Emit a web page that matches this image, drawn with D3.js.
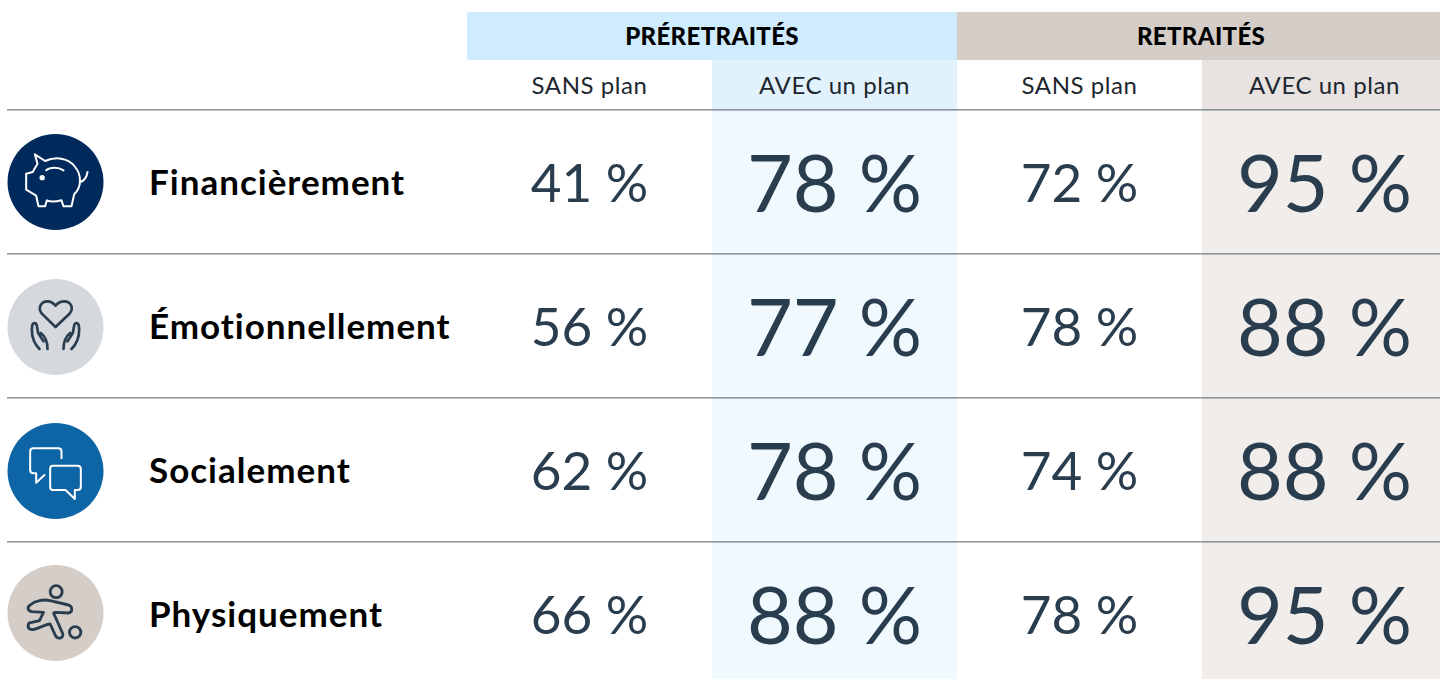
<!DOCTYPE html>
<html lang="fr">
<head>
<meta charset="utf-8">
<script src="https://cdnjs.cloudflare.com/ajax/libs/d3/7.8.5/d3.min.js"></script>
<style>
  html, body { margin: 0; padding: 0; background: #fff; overflow: hidden; }
  svg { display: block; }
  text { font-family: Lato, "Open Sans", sans-serif; font-variant-ligatures: none; }
</style>
</head>
<body>
<div id="chart"></div>
<script>
// data
const categories = ["Financièrement", "Émotionnellement", "Socialement", "Physiquement"];
const groups = ["PRÉRETRAITÉS", "RETRAITÉS"];
const columnLabels = ["SANS plan", "AVEC un plan", "SANS plan", "AVEC un plan"];
const preSansPlan = [41, 56, 62, 66];
const preAvecPlan = [78, 77, 78, 88];
const retSansPlan = [72, 78, 74, 78];
const retAvecPlan = [95, 88, 88, 95];
const columnValues = [preSansPlan, preAvecPlan, retSansPlan, retAvecPlan];

const circleColors = ["#002a5c", "#d5d9de", "#0e65a6", "#d5cdc8"];
const iconColors = ["#ffffff", "#2a3d4f", "#ffffff", "#2a3d4f"];
const iconStrokes = [6, 8, 6, 8.5];
const groupColors = ["#cfebfe", "#d5cdc8"];
const subColors = ["#e2f2fd", "#e8e3e0"];
const cellColors = ["#f0f9fe", "#f1edeb"];
const textColor = "#2a3d4f";

// icons, drawn in a 3x box and centred on the circle
const icons = [
  {
    center: [166, 185],
    paths: [
      "M104,102 L135,122 C165,108 205,112 225,140 C245,165 245,200 222,222 L214,258 L190,258 L184,240 C165,245 150,245 140,240 L135,258 L115,258 L108,226 L78,208 L78,160 L98,155 C100,150 110,135 112,130 Z",
      "M138,150 C150,140 175,140 190,150",
      "M240,185 C255,180 260,170 262,155"
    ],
    dots: [[126, 172, 5, true]]
  },
  {
    center: [166, 172],
    paths: [
      "M166,172 L125,132 C112,115 122,95 142,95 C152,95 160,100 166,108 C172,100 180,95 192,95 C212,95 222,115 208,132 Z",
      "M118,238 C105,225 95,205 95,180 L96,168 C98,158 108,158 110,168 L114,190 L130,215 M122,190 C135,200 142,220 142,238",
      "M214,238 C227,225 237,205 237,180 L236,168 C234,158 224,158 222,168 L218,190 L202,215 M210,190 C197,200 190,220 190,238"
    ],
    dots: []
  },
  {
    center: [166, 168],
    paths: [
      "M184,130 L184,110 Q184,100 174,100 L100,100 Q90,100 90,110 L90,165 Q90,175 100,175 L108,175 L108,203 L133,180",
      "M158,152 L232,152 Q242,152 242,162 L242,215 Q242,225 232,225 L224,225 L224,252 L196,225 L158,225 Q150,225 150,215 L150,162 Q150,152 158,152 Z"
    ],
    dots: []
  },
  {
    center: [166, 172],
    paths: [
      "M90,148 C105,135 130,130 150,135 L205,148 C218,152 218,170 205,172 L165,170 L160,172 L175,205 L188,235 C190,250 170,252 165,238 L150,205 C135,205 110,222 95,222 C80,220 80,200 95,200 L118,195 L130,170 L95,168 C82,165 80,155 90,148 Z"
    ],
    dots: [[168, 108, 18, false], [225, 230, 17, false]]
  }
];

const width = 1440, height = 679;
const svg = d3.select("#chart").append("svg")
  .attr("width", width).attr("height", height);

// scales
const x = d3.scaleBand().domain(d3.range(4)).range([467, 1447]);
const y = d3.scaleBand().domain(categories).range([110, 686]);
const groupX = d3.scaleBand().domain(groups).range([467, 1447]);
const iconY = [182, 327, 471, 613];

// header bands
svg.selectAll("rect.group").data(groups).join("rect")
  .attr("class", "group")
  .attr("x", d => groupX(d)).attr("y", 12)
  .attr("width", groupX.bandwidth()).attr("height", 48)
  .attr("fill", (d, i) => groupColors[i]);

svg.selectAll("text.group").data(groups).join("text")
  .attr("class", "group")
  .attr("x", (d, i) => i === 0 ? 712 : 1201)
  .attr("y", 45)
  .attr("text-anchor", "middle")
  .attr("font-size", 24).attr("font-weight", 900).attr("fill", "#000")
  .attr("letter-spacing", 0.35)
  .text(d => d);

// shaded AVEC columns
const shaded = [1, 3];
svg.selectAll("rect.sub").data(shaded).join("rect")
  .attr("class", "sub")
  .attr("x", d => x(d)).attr("y", 60)
  .attr("width", x.bandwidth()).attr("height", 50)
  .attr("fill", (d, i) => subColors[i]);

svg.selectAll("rect.cell").data(shaded).join("rect")
  .attr("class", "cell")
  .attr("x", d => x(d)).attr("y", 110)
  .attr("width", x.bandwidth()).attr("height", height - 110)
  .attr("fill", (d, i) => cellColors[i]);

// column titles
svg.selectAll("text.col").data(columnLabels).join("text")
  .attr("class", "col")
  .attr("x", (d, i) => x(i) + x.bandwidth() / 2)
  .attr("y", 94)
  .attr("text-anchor", "middle")
  .attr("font-size", 24).attr("fill", "#1d2730")
  .attr("letter-spacing", 0.55)
  .text(d => d);

// row rules
svg.selectAll("line.rule").data(categories).join("line")
  .attr("class", "rule")
  .attr("x1", 7).attr("x2", width)
  .attr("y1", d => y(d) - 0.2).attr("y2", d => y(d) - 0.2)
  .attr("stroke", "#6f7a82").attr("stroke-width", 1.2);

// rows
const rows = svg.selectAll("g.row").data(categories).join("g")
  .attr("class", "row")
  .attr("transform", d => `translate(0,${y(d)})`);

rows.append("text")
  .attr("x", 149).attr("y", 85)
  .attr("font-size", 35).attr("font-weight", 700).attr("fill", "#000")
  .attr("letter-spacing", 1)
  .text(d => d);

// values
columnValues.forEach((vals, c) => {
  const big = c % 2 === 1;
  svg.selectAll(`text.val${c}`).data(vals).join("text")
    .attr("class", `val${c}`)
    .attr("x", x(c) + x.bandwidth() / 2)
    .attr("y", (d, i) => y(categories[i]) + (big ? 102 : 92))
    .attr("text-anchor", "middle")
    .attr("font-size", big ? 79 : 53)
    .attr("fill", textColor)
    .text(d => `${d} %`);
});

// icons
const iconG = svg.selectAll("g.icon").data(icons).join("g")
  .attr("class", "icon")
  .attr("transform", (d, i) => `translate(55.5,${iconY[i]})`);

iconG.append("circle").attr("r", 48).attr("fill", (d, i) => circleColors[i]);

iconG.each(function(d, i) {
  const g = d3.select(this).append("g")
    .attr("transform", `scale(${1 / 3}) translate(${-d.center[0]},${-d.center[1]})`)
    .attr("fill", "none").attr("stroke", iconColors[i])
    .attr("stroke-width", iconStrokes[i]).attr("stroke-linejoin", "round").attr("stroke-linecap", "round");
  g.selectAll("path").data(d.paths).join("path").attr("d", p => p);
  g.selectAll("circle").data(d.dots).join("circle")
    .attr("cx", p => p[0]).attr("cy", p => p[1]).attr("r", p => p[2])
    .attr("fill", p => p[3] ? iconColors[i] : "none");
});
</script>
</body>
</html>
